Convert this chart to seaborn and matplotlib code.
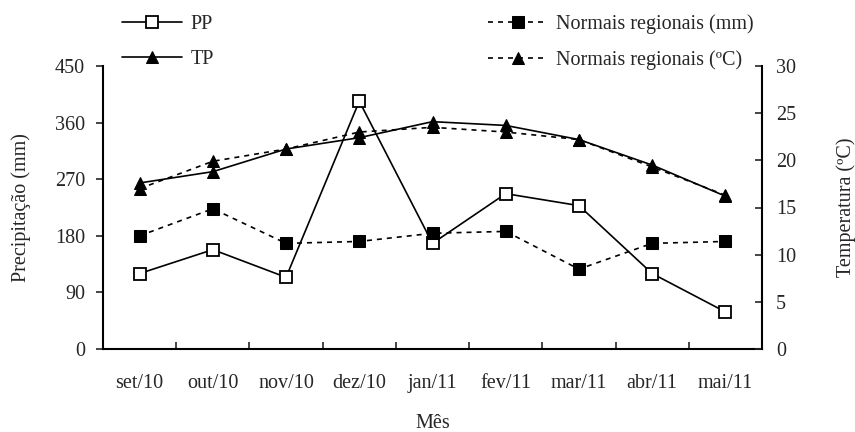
import numpy as np
import pandas as pd
import seaborn as sns
import matplotlib.pyplot as plt

months = ["set/10", "out/10", "nov/10", "dez/10", "jan/11", "fev/11", "mar/11", "abr/11", "mai/11"]
pp = [120, 158, 114, 394, 168, 247, 228, 120, 59]
normal_mm = [180, 223, 168, 171, 184, 187, 127, 168, 171]
tp = [17.6, 18.8, 21.2, 22.4, 24.1, 23.7, 22.2, 19.5, 16.2]
normal_c = [17.0, 19.9, 21.2, 23.0, 23.5, 23.0, 22.2, 19.3, 16.3]
prec_ticks = [0, 90, 180, 270, 360, 450]
temp_ticks = [0, 5, 10, 15, 20, 25, 30]

sns.set_style("ticks")
plt.rcParams['font.family'] = ['Liberation Serif', 'DejaVu Serif']
plt.rcParams['font.size'] = 14.5

df = pd.DataFrame({"pos": np.arange(len(months)), "pp": pp, "nmm": normal_mm,
                   "tp": tp, "nc": normal_c})

fig, ax = plt.subplots(figsize=(8.55, 4.32), dpi=100)
fig.subplots_adjust(left=103/855, right=762/855, bottom=(432-349)/432, top=(432-66)/432)
ax2 = ax.twinx()

dash = (0, (3, 3))
sns.lineplot(data=df, x="pos", y="pp", ax=ax, color="black", marker="s", markersize=8,
             markerfacecolor="white", markeredgecolor="black", markeredgewidth=1.3,
             linewidth=1.2, legend=False)
sns.lineplot(data=df, x="pos", y="nmm", ax=ax, color="black", marker="s", markersize=8,
             markerfacecolor="black", markeredgecolor="black", linestyle=dash,
             linewidth=1.2, legend=False)
sns.lineplot(data=df, x="pos", y="tp", ax=ax2, color="black", marker="^", markersize=9,
             markerfacecolor="black", markeredgecolor="black",
             linewidth=1.2, legend=False)
sns.lineplot(data=df, x="pos", y="nc", ax=ax2, color="black", marker="^", markersize=9,
             markerfacecolor="black", markeredgecolor="black", linestyle=dash,
             linewidth=1.2, legend=False)

ax.set_xlim(-0.5, len(months) - 0.5)
ax.set_ylim(0, 450)
ax2.set_ylim(0, 30)
ax.set_yticks(prec_ticks)
ax2.set_yticks(temp_ticks)
ax.set_xticks(np.arange(len(months) + 1) - 0.5)
ax.set_xticklabels([])
ax.set_xticks(np.arange(len(months)), labels=months, minor=True)
ax.tick_params(axis="x", which="minor", length=0, pad=18)
ax.tick_params(axis="x", which="major", direction="in", length=5, width=1.2)
ax.tick_params(axis="y", direction="out", length=5, width=1.2, pad=8)
ax2.tick_params(axis="y", direction="in", length=5, width=1.2, pad=10)

for a in (ax, ax2):
    a.spines["top"].set_visible(False)
    for s in ("left", "right", "bottom"):
        a.spines[s].set_linewidth(1.5)
        a.spines[s].set_color("black")
ax.spines["right"].set_visible(False)
ax2.spines["left"].set_visible(False)
ax2.spines["bottom"].set_visible(False)

ax.set_xlabel("Mês", labelpad=15)
ax.set_ylabel("Precipitação (mm)", labelpad=17)
ax2.set_ylabel("Temperatura (ºC)", labelpad=29)

handles = [ax.lines[0], ax2.lines[0], ax.lines[1], ax2.lines[1]]
labels = ["PP", "TP", "Normais regionais (mm)", "Normais regionais (ºC)"]
fig.legend(handles, labels, ncol=2, loc="upper left", bbox_to_anchor=(112/855, 0.99),
           frameon=False, borderpad=0, handlelength=3.0, handletextpad=0.4,
           columnspacing=13.6, labelspacing=0.8)

fig.savefig("out.png", dpi=100)
